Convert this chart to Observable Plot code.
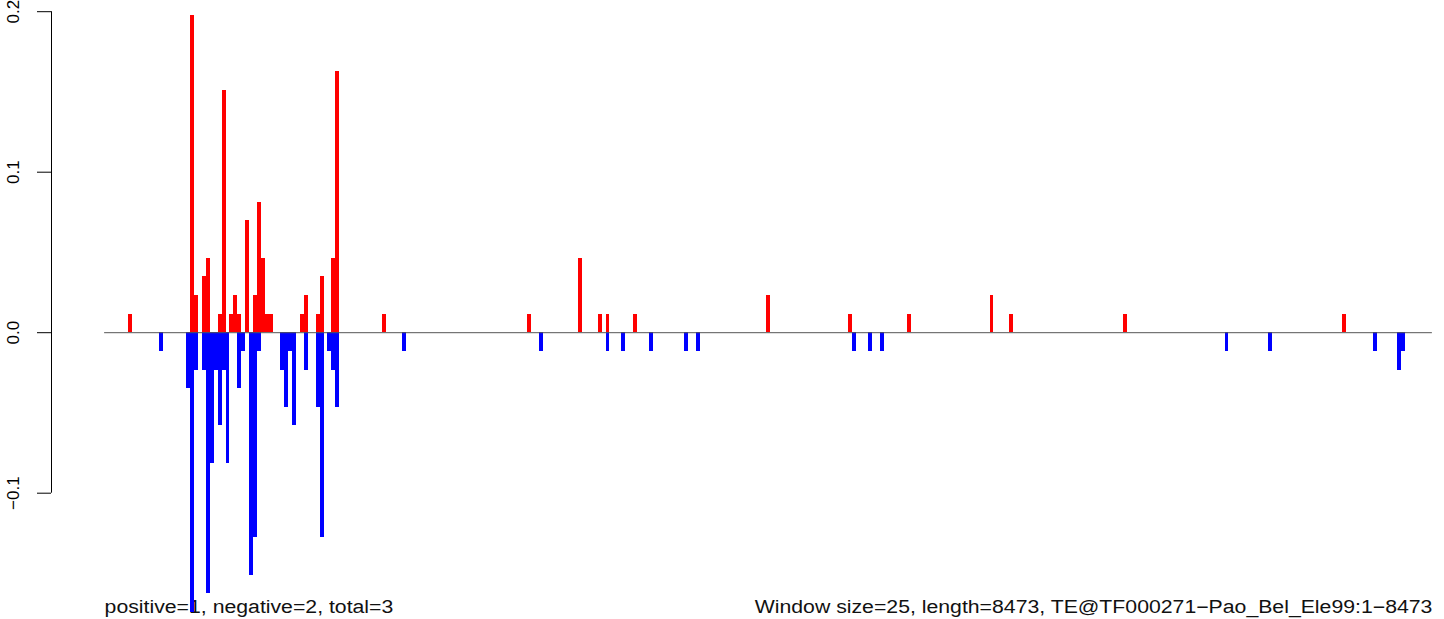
<!DOCTYPE html>
<html>
<head>
<meta charset="utf-8">
<script src="https://cdn.jsdelivr.net/npm/d3@7"></script>
<script src="https://cdn.jsdelivr.net/npm/@observablehq/plot@0.6"></script>
<style>
  html, body { margin: 0; padding: 0; background: #ffffff; }
  #chart { width: 1444px; height: 619px; overflow: hidden; }
</style>
</head>
<body>
<div id="chart"></div>
<script>
// ---- data ----
const windowSize = 25;
const seqLength = 8473;

// windows (0-based index of 25 bp window) with a positive score
const posWindows = [6, 22, 23, 25, 26, 29, 30, 32, 33, 34, 36, 38, 39, 40, 41, 42, 50, 51, 54, 55, 58, 59,
  71, 108, 121, 126, 128, 135, 169, 190, 205, 226, 231, 260, 316];
const posValues = [0.0116, 0.1977, 0.0233, 0.0349, 0.0465, 0.0116, 0.1512, 0.0116, 0.0233, 0.0116, 0.0698,
  0.0233, 0.0814, 0.0465, 0.0116, 0.0116, 0.0116, 0.0233, 0.0116, 0.0349, 0.0465, 0.1628,
  0.0116, 0.0116, 0.0465, 0.0116, 0.0116, 0.0116, 0.0233, 0.0116, 0.0116, 0.0233, 0.0116, 0.0116, 0.0116];

// windows with a negative score
const negWindows = [14, 21, 22, 23, 25, 26, 27, 28, 29, 30, 31, 34, 35, 37, 38, 39, 45, 46, 47, 48, 51, 54, 55,
  57, 58, 59, 76, 111, 128, 132, 139, 148, 151, 191, 195, 198, 286, 297, 324, 330, 331];
const negValues = [-0.0116, -0.0349, -0.1744, -0.0233, -0.0233, -0.1628, -0.0814, -0.0233, -0.0581, -0.0233,
  -0.0814, -0.0349, -0.0116, -0.1512, -0.1279, -0.0116, -0.0233, -0.0465, -0.0116, -0.0581, -0.0233,
  -0.0465, -0.1279, -0.0116, -0.0233, -0.0465, -0.0116, -0.0116, -0.0116, -0.0116, -0.0116, -0.0116,
  -0.0116, -0.0116, -0.0116, -0.0116, -0.0116, -0.0116, -0.0116, -0.0233, -0.0116];

const yTicks = [-0.1, 0.0, 0.1, 0.2];
const yTickLabels = ["\u22120.1", "0.0", "0.1", "0.2"];
const summaryLabel = "positive=1, negative=2, total=3";
const infoLabel = "Window size=25, length=8473, TE@TF000271\u2212Pao_Bel_Ele99:1\u22128473";

// ---- build tables ----
const posData = posWindows.map((w, i) => ({start: w * windowSize, end: (w + 1) * windowSize, v: posValues[i]}));
const negData = negWindows.map((w, i) => ({start: w * windowSize, end: (w + 1) * windowSize, v: negValues[i]}));
const tickData = yTicks.map((t, i) => ({t, label: yTickLabels[i]}));

// R-style limits: data range extended by 4% on each side
const xExt = 0.04 * seqLength;
const xDomain = [-xExt, seqLength + xExt];
const allV = posValues.concat(negValues);
const [vMin, vMax] = d3.extent(allV);
const yExt = 0.04 * (vMax - vMin);
const yDomain = [vMin - yExt, vMax + yExt];

const FONT = "'Liberation Sans', Arial, Helvetica, sans-serif";

const chart = Plot.plot({
  width: 1444,
  height: 619,
  marginLeft: 51,
  marginRight: 0,
  marginTop: 0,
  marginBottom: 0,
  style: {fontFamily: FONT, background: "#ffffff", color: "#000000"},
  x: {domain: xDomain, range: [51, 1485], axis: null},
  y: {domain: yDomain, range: [636, -9], axis: null},
  marks: [
    // bottom annotations
    Plot.text([summaryLabel], {x: () => 0, frameAnchor: "bottom", text: d => d, textAnchor: "start",
      lineAnchor: "bottom", dy: -7, fontSize: 18, fill: "#111111", className: "stretch"}),
    Plot.text([infoLabel], {x: () => seqLength, frameAnchor: "bottom", text: d => d, textAnchor: "end",
      lineAnchor: "bottom", dy: -7, fontSize: 18, fill: "#111111", className: "stretch"}),
    // bars
    Plot.rect(posData, {x1: "start", x2: "end", y1: () => 0, y2: "v", fill: "#ff0000", shapeRendering: "crispEdges"}),
    Plot.rect(negData, {x1: "start", x2: "end", y1: () => 0, y2: "v", fill: "#0000ff", shapeRendering: "crispEdges"}),
    // baseline over the full sequence
    Plot.ruleY([0], {x1: () => 0, x2: () => seqLength, stroke: "#555555", strokeWidth: 1}),
    // y axis (R style: line from first to last tick, ticks outward, rotated labels)
    Plot.ruleX([xDomain[0]], {y1: () => yTicks[0], y2: () => yTicks[yTicks.length - 1], stroke: "#000000", strokeWidth: 1}),
    Plot.axisY({ticks: yTicks, tickSize: 14, tickFormat: () => "", stroke: "#000000", strokeWidth: 1}),
    Plot.text(tickData, {y: "t", frameAnchor: "left", text: "label", rotate: -90, textAnchor: "middle",
      lineAnchor: "bottom", dx: -33, fontSize: 17, fill: "#000000"})
  ]
});

document.getElementById("chart").appendChild(chart);

// R's rendering is horizontally wider than a plain face: widen the bottom labels
d3.select(chart).selectAll("g.stretch text").each(function () {
  const len = this.getComputedTextLength();
  this.setAttribute("textLength", (len * 1.18).toFixed(1));
  this.setAttribute("lengthAdjust", "spacingAndGlyphs");
});
</script>
</body>
</html>
